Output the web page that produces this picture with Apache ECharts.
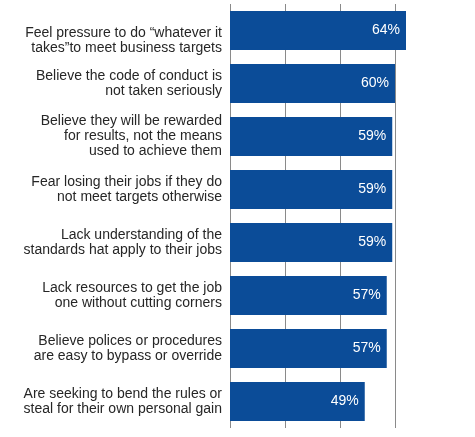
<!DOCTYPE html>
<html>
<head>
<meta charset="utf-8">
<script src="https://cdn.jsdelivr.net/npm/echarts@6/dist/echarts.min.js"></script>
<style>
html,body{margin:0;padding:0;background:#fff;}
#chart{width:475px;height:437px;}
</style>
</head>
<body>
<div id="chart"></div>
<script>
const categories = [
  "Feel pressure to do \u201cwhatever it\ntakes\u201dto meet business targets",
  "Believe the code of conduct is\nnot taken seriously",
  "Believe they will be rewarded\nfor results, not the means\nused to achieve them",
  "Fear losing their jobs if they do\nnot meet targets otherwise",
  "Lack understanding of the\nstandards hat apply to their jobs",
  "Lack resources to get the job\none without cutting corners",
  "Believe polices or procedures\nare easy to bypass or override",
  "Are seeking to bend the rules or\nsteal for their own personal gain"
];
const values = [64, 60, 59, 59, 59, 57, 57, 49];
const xTicks = [0, 20, 40, 60, 80];

const chart = echarts.init(document.getElementById('chart'), null, {renderer: 'canvas'});
chart.setOption({
  animation: false,
  backgroundColor: '#ffffff',
  grid: {left: 230, top: 4, width: 220, height: 424, containLabel: false},
  xAxis: {
    type: 'value',
    min: xTicks[0],
    max: xTicks[xTicks.length - 1],
    interval: 20,
    axisLabel: {show: false},
    axisLine: {show: false},
    axisTick: {show: false},
    splitLine: {show: true, showMaxLine: false, lineStyle: {color: '#8a8a8a', width: 1}}
  },
  yAxis: {
    type: 'category',
    inverse: true,
    data: categories,
    axisLine: {show: false},
    axisTick: {show: false},
    axisLabel: {
      margin: 8,
      align: 'right',
      color: '#262626',
      fontFamily: 'Liberation Sans, Arial, sans-serif',
      fontSize: 14,
      lineHeight: 15,
      // the first label sits a little lower than its bar in the reference
      formatter: (v, i) => (i === 0 ? '{pad|}\n' + v.split('\n').map(s => '{t|' + s + '}').join('\n') : v),
      rich: {
        pad: {height: 20, lineHeight: 20},
        t: {
          color: '#262626',
          fontFamily: 'Liberation Sans, Arial, sans-serif',
          fontSize: 14,
          lineHeight: 15
        }
      }
    }
  },
  series: [{
    type: 'bar',
    data: values,
    barCategoryGap: '26%',
    itemStyle: {color: '#0b4c98'},
    label: {
      show: true,
      position: 'insideRight',
      distance: 6,
      color: '#ffffff',
      fontFamily: 'Liberation Sans, Arial, sans-serif',
      fontSize: 14,
      formatter: '{c}%'
    }
  }]
});
</script>
</body>
</html>
